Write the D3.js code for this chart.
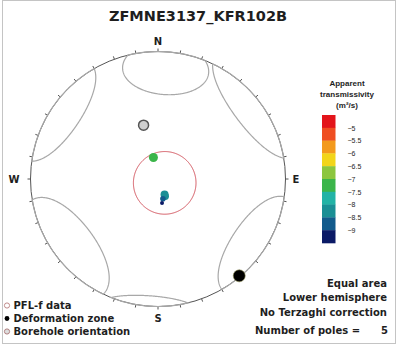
<!DOCTYPE html>
<html><head><meta charset="utf-8">
<script src="https://cdn.jsdelivr.net/npm/d3@7"></script>
<style>
body{margin:0;background:#fff}
svg{display:block}
text{font-family:"DejaVu Sans",Verdana,sans-serif;fill:#1e1e1e}
</style>
</head><body>
<svg id="c" width="398" height="347"></svg>
<script>
// ---------- data ----------
const chartTitle = "ZFMNE3137_KFR102B";
// PFL-f poles (trend, plunge in degrees; log10 apparent transmissivity)
const poleTrend  = [348, 157, 157, 166, 170.5];
const polePlunge = [76, 79.3, 78, 77, 74.5];
const poleLogT   = [-7.0, -8.1, -8.2, -8.6, -9.1];
const poleSize   = [4.5, 4, 3.6, 2.8, 2];
// deformation zone pole
const dzTrend = [140], dzPlunge = [1];
// borehole orientation
const bhTrend = [345], bhPlunge = [54];
// grey cones (axis trend, axis plunge, half-angle)
const coneTrend  = [4, 233, 124];
const conePlunge = [12.5, 5, 1.5];
const coneAngle  = [21.5, 28, 26];
// red cone
const ringTrend = [120], ringPlunge = [85], ringAngle = [20];
// colour bar
const cbTicks  = [-5, -5.5, -6, -6.5, -7, -7.5, -8, -8.5, -9];
const cbEdges  = [-4.5, -5, -5.5, -6, -6.5, -7, -7.5, -8, -8.5, -9, -9.5];
const cbColors = ["#e3151b", "#ef4e22", "#f39a1d", "#f2d51a", "#8cc63e",
                  "#3bb54a", "#22b3a6", "#1a8f95", "#125b8c", "#0b1a66"];
const cbTitle  = ["Apparent", "transmissivity", "(m\u00B2/s)"];
const cardinals = ["N", "E", "S", "W"];
const legendLabels = ["PFL-f data", "Deformation zone", "Borehole orientation"];
const infoLines = ["Equal area", "Lower hemisphere", "No Terzaghi correction"];
const nPolesLabel = "Number of poles =";

// ---------- layout ----------
const svg = d3.select("#c");
const cx = 158, cy = 179, R = 127.5;

svg.append("rect").attr("x", 2.5).attr("y", 0.5).attr("width", 393).attr("height", 343)
  .attr("fill", "none").attr("stroke", "#c4c4c4");

svg.append("text").attr("x", 198).attr("y", 21).attr("text-anchor", "middle")
  .style("font-size", "14.5px").style("font-weight", "bold").text(chartTitle);

// lower hemisphere equal-area projection (pole of projection = nadir)
const proj = d3.geoAzimuthalEqualArea()
  .rotate([0, -90]).clipAngle(90)
  .scale(R / Math.SQRT2).translate([cx, cy]).precision(0.2);
const path = d3.geoPath(proj);
const ll = (t, p) => [180 - t, p];

// primitive + ticks
svg.append("circle").attr("cx", cx).attr("cy", cy).attr("r", R)
  .attr("fill", "none").attr("stroke", "#555").attr("stroke-width", 1);
const tickAz = d3.range(0, 360, 10);
svg.append("g").selectAll("line").data(tickAz).join("line")
  .attr("x1", d => cx + R * Math.sin(d * Math.PI / 180))
  .attr("y1", d => cy - R * Math.cos(d * Math.PI / 180))
  .attr("x2", d => cx + (R + 3) * Math.sin(d * Math.PI / 180))
  .attr("y2", d => cy - (R + 3) * Math.cos(d * Math.PI / 180))
  .attr("stroke", "#555").attr("stroke-width", 1);

// cardinal labels
const cardPos = {
  N: [cx, cy - R - 7, "middle"], S: [cx, cy + R + 15, "middle"],
  E: [cx + R + 7, cy + 4, "start"], W: [cx - R - 11, cy + 4, "end"]
};
svg.append("g").selectAll("text").data(cardinals).join("text")
  .attr("x", d => cardPos[d][0]).attr("y", d => cardPos[d][1])
  .attr("text-anchor", d => cardPos[d][2])
  .style("font-size", "10px").style("font-weight", "bold").text(d => d);

// grey cones: each drawn around its axis and around the antipodal axis
const coneData = [];
coneTrend.forEach((t, i) => {
  coneData.push({c: ll(t, conePlunge[i]), r: coneAngle[i]});
  coneData.push({c: ll(t + 180, -conePlunge[i]), r: coneAngle[i]});
});
svg.append("g").selectAll("path").data(coneData).join("path")
  .attr("d", d => path(d3.geoCircle().center(d.c).radius(d.r).precision(1)()))
  .attr("fill", "none").attr("stroke", "#a8a8a8").attr("stroke-width", 1.2);

// red cone
svg.append("path")
  .attr("d", path(d3.geoCircle().center(ll(ringTrend[0], ringPlunge[0])).radius(ringAngle[0]).precision(1)()))
  .attr("fill", "none").attr("stroke", "#d2505a").attr("stroke-width", 1);

// colour scale
const colorOf = v => {
  let i = Math.floor((cbEdges[0] - v) / 0.5);
  i = Math.max(0, Math.min(cbColors.length - 1, i));
  return cbColors[i];
};

// borehole orientation
const bh = proj(ll(bhTrend[0], bhPlunge[0]));
svg.append("circle").attr("cx", bh[0]).attr("cy", bh[1]).attr("r", 5)
  .attr("fill", "#d0d0d0").attr("stroke", "#555").attr("stroke-width", 1.5);

// PFL-f poles
const poles = poleTrend.map((t, i) => ({t, p: polePlunge[i], v: poleLogT[i], s: poleSize[i]}));
svg.append("g").selectAll("circle").data(poles).join("circle")
  .attr("cx", d => proj(ll(d.t, d.p))[0]).attr("cy", d => proj(ll(d.t, d.p))[1])
  .attr("r", d => d.s).attr("fill", d => colorOf(d.v));

// deformation zone pole
const dz = proj(ll(dzTrend[0], dzPlunge[0]));
svg.append("circle").attr("cx", dz[0]).attr("cy", dz[1]).attr("r", 6)
  .attr("fill", "#000").attr("stroke", "#8a8a50").attr("stroke-width", 0.6);

// colour bar
const cbY = d3.scaleLinear().domain([-4.5, -9.5]).range([115, 243]);
const cbX = 322, cbW = 13.5;
svg.append("g").selectAll("rect").data(cbColors).join("rect")
  .attr("x", cbX).attr("width", cbW)
  .attr("y", (d, i) => cbY(cbEdges[i]))
  .attr("height", (d, i) => cbY(cbEdges[i + 1]) - cbY(cbEdges[i]) + 0.3)
  .attr("fill", d => d);
const cbAxis = svg.append("g").attr("transform", `translate(${cbX + cbW},0)`)
  .call(d3.axisRight(cbY).tickValues(cbTicks).tickSize(0).tickPadding(12).tickFormat(d3.format("")));
cbAxis.select(".domain").remove();
cbAxis.selectAll("text").style("font-size", "7px").style("font-family", "Liberation Sans, Arial, sans-serif").attr("fill", "#333");
svg.append("g").selectAll("text").data(cbTitle).join("text")
  .attr("x", 347).attr("y", (d, i) => 85.5 + i * 11.2).attr("text-anchor", "middle")
  .style("font-family", "Liberation Sans, Arial, sans-serif")
  .style("font-size", "8px").style("font-weight", "bold").text(d => d);

// info text bottom right
svg.append("g").selectAll("text").data(infoLines).join("text")
  .attr("x", 387).attr("y", (d, i) => [287, 300.5, 315.5][i]).attr("text-anchor", "end")
  .style("font-size", "10px").style("font-weight", "bold").text(d => d);
svg.append("text").attr("x", 255).attr("y", 334)
  .style("font-size", "10px").style("font-weight", "bold").text(nPolesLabel);
svg.append("text").attr("x", 388).attr("y", 334).attr("text-anchor", "end")
  .style("font-size", "10px").style("font-weight", "bold").text(poles.length);

// legend bottom left
const lg = svg.append("g");
legendLabels.forEach((lab, i) => {
  const y = 305.5 + i * 13;
  if (i === 0) lg.append("circle").attr("cx", 7).attr("cy", y).attr("r", 2.6)
    .attr("fill", "#fff").attr("stroke", "#c08a8a").attr("stroke-width", 1);
  if (i === 1) lg.append("circle").attr("cx", 7).attr("cy", y).attr("r", 2.4).attr("fill", "#000");
  if (i === 2) lg.append("circle").attr("cx", 7).attr("cy", y).attr("r", 2.6)
    .attr("fill", "#ddd").attr("stroke", "#b08080").attr("stroke-width", 1);
  lg.append("text").attr("x", 13.5).attr("y", y + 3.6)
    .style("font-size", "10px").style("font-weight", "bold").text(lab);
});
</script>
</body></html>
